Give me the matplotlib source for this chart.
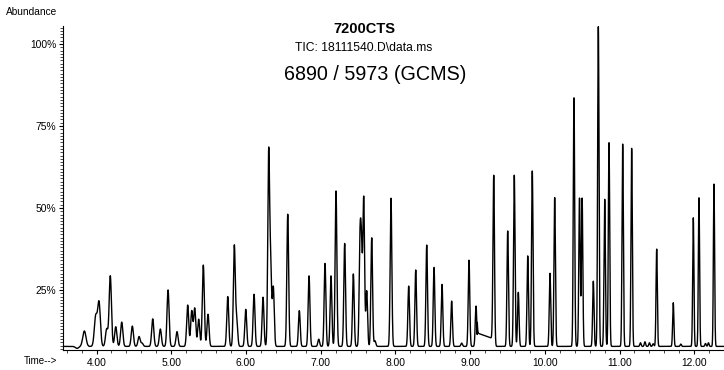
import numpy as np
import matplotlib
matplotlib.use("Agg")
import matplotlib.pyplot as plt
from matplotlib.ticker import MultipleLocator

plt.rcParams['font.family'] = ['Liberation Sans', 'DejaVu Sans']

# ---- data ----
peak_times = [3.739, 3.837, 3.989, 4.033, 4.136, 4.184, 4.257, 4.337, 4.479, 4.569, 4.609,
              4.752, 4.854, 4.957, 5.077, 5.220, 5.274, 5.314, 5.367, 5.429, 5.492,
              5.756, 5.844, 5.876, 5.997, 6.108, 6.228, 6.304, 6.331, 6.366, 6.559,
              6.714, 6.844, 6.974, 7.058, 7.138, 7.205, 7.321, 7.437, 7.526, 7.546,
              7.576, 7.616, 7.683, 7.727, 7.941, 8.178, 8.272, 8.419, 8.517, 8.624,
              8.753, 8.887, 8.985, 9.079, 9.316, 9.503, 9.591, 9.645, 9.771, 9.832,
              10.069, 10.132, 10.390, 10.464, 10.499, 10.649, 10.716, 10.801, 10.859,
              11.042, 11.162, 11.28, 11.34, 11.40, 11.45, 11.497, 11.719, 11.82,
              11.987, 12.063, 12.15, 12.19, 12.264]
peak_heights = [7.2, 12.5, 16.9, 21.1, 13.1, 29.3, 13.8, 15.2, 14.0, 10.8, 8.8,
                16.2, 13.1, 25.0, 12.3, 20.4, 18.6, 19.4, 16.1, 32.6, 17.6,
                23.0, 38.4, 16.0, 19.1, 23.7, 22.8, 66.4, 31.0, 25.8, 48.1,
                18.7, 29.3, 10.0, 33.1, 29.3, 55.2, 39.2, 29.9, 38.2, 35.0,
                52.8, 24.7, 40.9, 9.5, 53.0, 26.2, 31.1, 38.7, 31.9, 26.7,
                21.6, 8.8, 34.1, 20.1, 60.0, 43.0, 60.0, 24.3, 35.4, 61.3,
                30.1, 53.2, 83.6, 53.0, 53.0, 27.7, 105.3, 52.7, 69.9,
                69.5, 68.2, 8.9, 9.2, 8.9, 8.6, 37.5, 21.1, 8.5,
                47.0, 53.1, 8.7, 8.9, 57.3]
baseline_level = 7.8
tail_start, tail_end = 9.095, 9.300
tail_levels = [11.9, 10.2]

y_major = [25, 50, 75, 100]
x_major = [4, 5, 6, 7, 8, 9, 10, 11, 12]

# ---- build trace ----
t = np.arange(3.551, 12.40, 0.0008)
y = np.full_like(t, baseline_level)
pt = np.array(peak_times)
ph = np.array(peak_heights)
sig = np.interp(pt, [3.8, 4.2, 6.5, 12.4], [0.022, 0.015, 0.012, 0.008])
for c, h, s in zip(pt, ph, sig):
    y += (h - baseline_level) * np.exp(-0.5 * ((t - c) / s) ** 2)
mask = (t >= tail_start) & (t <= tail_end)
frac = (t[mask] - tail_start) / (tail_end - tail_start)
y[mask] += (tail_levels[0] - baseline_level) + frac * (tail_levels[1] - tail_levels[0])

# ---- figure ----
W, H = 724, 370
fig = plt.figure(figsize=(W / 100, H / 100), dpi=100)
ax_l, ax_r, ax_t, ax_b = 63, 724, 26, 350
ax = fig.add_axes([ax_l / W, 1 - ax_b / H, (ax_r - ax_l) / W, (ax_b - ax_t) / H])
ax.plot(t, y, color='black', lw=1.0)
ax.set_xlim(3.551, 12.398)
ax.set_ylim(6.7, 105.5)

for s in ['top', 'right']:
    ax.spines[s].set_visible(False)
for s in ['left', 'bottom']:
    ax.spines[s].set_linewidth(0.8)

ax.set_xticks(x_major)
ax.set_xticklabels([f"{v:.2f}" for v in x_major])
ax.xaxis.set_minor_locator(MultipleLocator(0.2))
ax.set_yticks(y_major)
ax.set_yticklabels([f"{v}%" for v in y_major])
ax.yaxis.set_minor_locator(MultipleLocator(1.0))
ax.tick_params(axis='both', which='major', labelsize=7.4, length=3, width=0.8, pad=2)
ax.tick_params(axis='both', which='minor', length=2, width=0.5)
ax.tick_params(axis='x', pad=3)

def ftxt(x, y_, s, **kw):
    fig.text(x / W, 1 - y_ / H, s, **kw)

ftxt(5.7, 11.7, "Abundance", fontsize=7.3, ha='left', va='center')
ftxt(364.7, 29, "7200CTS", fontsize=10.5, fontweight='bold', ha='center', va='center')
ftxt(364, 48, "TIC: 18111540.D\\data.ms", fontsize=8.7, ha='center', va='center')
ftxt(375, 75, "6890 / 5973 (GCMS)", fontsize=14.2, ha='center', va='center')
ftxt(56.7, 361.5, "Time-->", fontsize=7.0, ha='right', va='center')

fig.savefig("out.png", dpi=100)
